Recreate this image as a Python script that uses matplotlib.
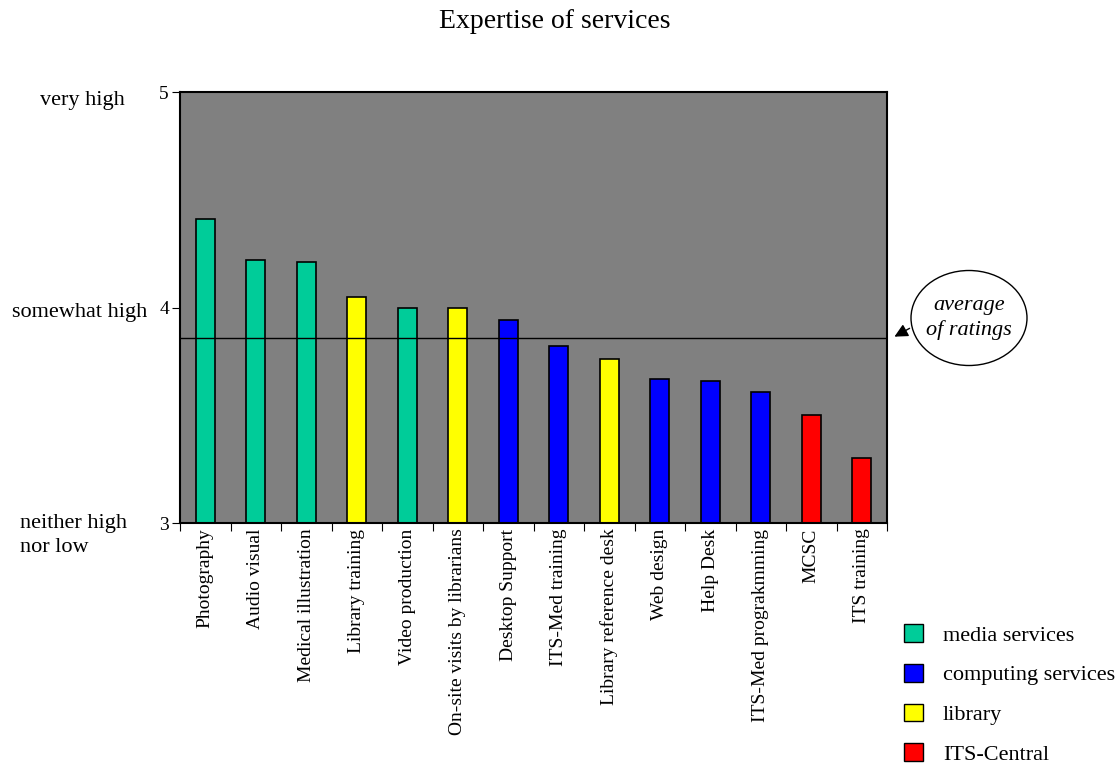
import matplotlib.pyplot as plt
from matplotlib.patches import Ellipse, Patch

plt.rcParams['font.family'] = ['Liberation Serif', 'DejaVu Serif']

services = ['Photography', 'Audio visual', 'Medical illustration', 'Library training',
            'Video production', 'On-site visits by librarians', 'Desktop Support',
            'ITS-Med training', 'Library reference desk', 'Web design', 'Help Desk',
            'ITS-Med prograkmming', 'MCSC', 'ITS training']
ratings = [4.41, 4.22, 4.21, 4.05, 4.00, 4.00, 3.94, 3.82, 3.76, 3.67, 3.66, 3.61, 3.50, 3.30]
groups = ['media', 'media', 'media', 'library', 'media', 'library', 'computing',
          'computing', 'library', 'computing', 'computing', 'computing', 'central', 'central']
average = 3.86

group_names = ['media', 'computing', 'library', 'central']
group_labels = ['media services', 'computing services', 'library', 'ITS-Central']
group_colors = {'media': '#00cc99', 'computing': '#0000ff',
                'library': '#ffff00', 'central': '#ff0000'}

y_ticks = [3, 4, 5]
y_words = ['neither high\nnor low', 'somewhat high', 'very high']

fig = plt.figure(figsize=(11.19, 7.64), dpi=100)
ax = fig.add_axes([0.1609, 0.3154, 0.6318, 0.5641])
ax.set_facecolor('#808080')

x = list(range(len(services)))
ax.bar(x, [r - 3 for r in ratings], bottom=3, width=0.38,
       color=[group_colors[g] for g in groups], edgecolor='black', linewidth=1.2, zorder=2)
ax.axhline(average, color='black', lw=1, zorder=3)

ax.set_xlim(-0.5, len(services) - 0.5)
ax.set_ylim(3, 5)
ax.set_yticks(y_ticks)
ax.set_yticklabels([str(t) for t in y_ticks], fontsize=14)
ax.set_xticks([i - 0.5 for i in range(len(services) + 1)])
ax.set_xticklabels([])
ax.set_xticks(x, minor=True)
ax.set_xticklabels(services, minor=True, rotation=90, fontsize=14, va='top')
ax.tick_params(axis='x', which='minor', length=0, pad=4)
ax.tick_params(axis='x', which='major', length=6, direction='out')
ax.tick_params(axis='y', length=6, direction='out', pad=2)
for s in ax.spines.values():
    s.set_linewidth(1.5)

# verbal scale to the left of the numbers
fig.text(125 / 1119, 1 - 98 / 764, y_words[2], fontsize=16, ha='right', va='center_baseline')
fig.text(147 / 1119, 1 - 310 / 764, y_words[1], fontsize=16, ha='right', va='center_baseline')
fig.text(20 / 1119, 1 - 514 / 764, y_words[0], fontsize=16, ha='left', va='top',
         linespacing=1.35)

# callout for the average line
fig.add_artist(Ellipse((969 / 1119, 1 - 318 / 764), 116 / 1119, 95 / 764,
                       transform=fig.transFigure, facecolor='white', edgecolor='black', lw=1))
fig.text(969 / 1119, 1 - 318 / 764, 'average\nof ratings', ha='center', va='center',
         fontsize=16, style='italic', linespacing=1.35)
ax.annotate('', xy=(892 / 1119, 1 - 338 / 764), xycoords='figure fraction',
            xytext=(912 / 1119, 1 - 327 / 764), textcoords='figure fraction',
            arrowprops=dict(arrowstyle='-|>', color='black', lw=1, mutation_scale=20))

handles = [Patch(facecolor=group_colors[g], edgecolor='black', label=l)
           for g, l in zip(group_names, group_labels)]
fig.legend(handles=handles, loc='upper left', bbox_to_anchor=(904 / 1119, 1 - 624 / 764),
           frameon=False, borderpad=0, borderaxespad=0, fontsize=16,
           handlelength=0.85, handleheight=0.85, handletextpad=0.9, labelspacing=0.82)

fig.text(0.496, 1 - 22 / 764, 'Expertise of services', ha='center', va='center', fontsize=20)

fig.savefig('out.png', dpi=100)
